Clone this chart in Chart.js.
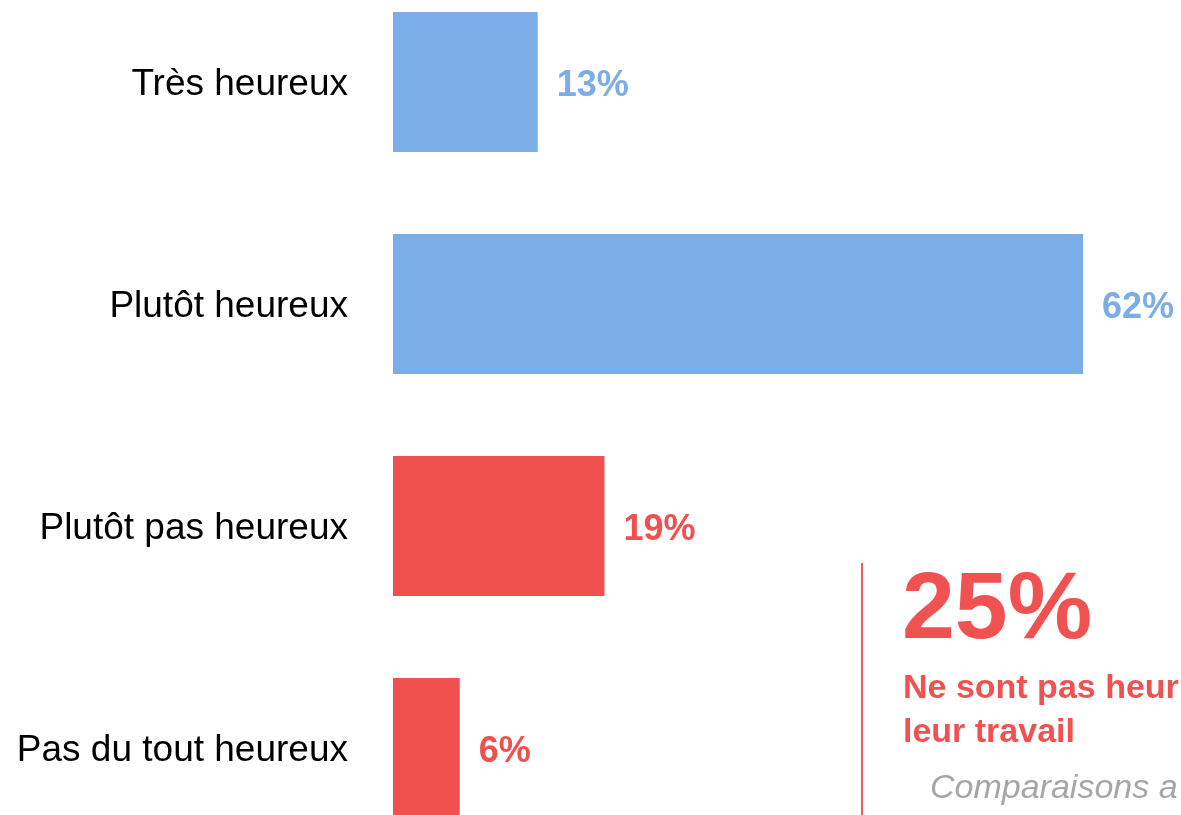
<!DOCTYPE html>
<html lang="fr">
<head>
    <meta charset="UTF-8">
    <title>Heureux au travail</title>
    <script src="https://cdn.jsdelivr.net/npm/chart.js@4.4.1/dist/chart.umd.min.js"></script>
    <style>
        body { margin: 0; width: 1181px; height: 815px; overflow: hidden; background: #fff;
               font-family: "Liberation Sans", Arial, sans-serif; position: relative; }
        #wrap { position: absolute; left: 0; top: -29px; width: 1181px; height: 888px; }
        .side { position: absolute; white-space: nowrap; }
        #bar-line { position: absolute; left: 861px; top: 563px; width: 2px; height: 252px; background: #f05a5a; }
        #big { left: 902px; top: 558px; font-size: 95px; line-height: 95px; font-weight: bold; color: #f05252; }
        #sub { left: 903px; top: 664px; font-size: 34px; line-height: 44px; font-weight: bold; color: #f05252; }
        #cmp { left: 930px; top: 764px; font-size: 34px; line-height: 44px; font-style: italic; color: #a6a6a6; }
    </style>
</head>
<body>

<div id="wrap"><canvas id="happy-chart" width="1181" height="888"></canvas></div>
<div id="bar-line"></div>
<div class="side" id="big">25%</div>
<div class="side" id="sub">Ne sont pas heur<br>leur travail</div>
<div class="side" id="cmp">Comparaisons a</div>

<script>
    const categories = ["Très heureux", "Plutôt heureux", "Plutôt pas heureux", "Pas du tout heureux"];
    const shares = [13, 62, 19, 6];
    const barColors = ["#7badE6", "#7badE6", "#f05050", "#f05050"];

    // value labels at the end of each bar
    const valueLabels = {
        id: 'valueLabels',
        afterDatasetsDraw(chart) {
            const ctx = chart.ctx;
            const meta = chart.getDatasetMeta(0);
            ctx.save();
            ctx.font = 'bold 36px "Liberation Sans", Arial, sans-serif';
            ctx.textAlign = 'left';
            ctx.textBaseline = 'middle';
            meta.data.forEach((bar, i) => {
                ctx.fillStyle = barColors[i];
                ctx.fillText(shares[i] + '%', bar.x + 19, bar.y + 4);
            });
            ctx.restore();
        }
    };

    new Chart("happy-chart", {
        type: 'bar',
        data: {
            labels: categories,
            datasets: [{
                data: shares,
                backgroundColor: barColors,
                borderWidth: 0,
                categoryPercentage: 1,
                barPercentage: 0.63
            }]
        },
        options: {
            indexAxis: 'y',
            responsive: false,
            animation: false,
            layout: { padding: 0 },
            plugins: {
                legend: { display: false },
                title: { display: false },
                tooltip: { enabled: false }
            },
            scales: {
                x: { display: false, min: 0, max: 70.8 },
                y: {
                    grid: { display: false, drawTicks: false },
                    border: { display: false },
                    afterFit: (scale) => {
                        scale.width = 393;
                        scale.paddingTop = 0;
                        scale.paddingBottom = 0;
                    },
                    ticks: {
                        padding: 45,
                        labelOffset: 3,
                        color: '#000',
                        font: { family: '"Liberation Sans", Arial, sans-serif', size: 37 }
                    }
                }
            }
        },
        plugins: [valueLabels]
    });
</script>

</body>
</html>
